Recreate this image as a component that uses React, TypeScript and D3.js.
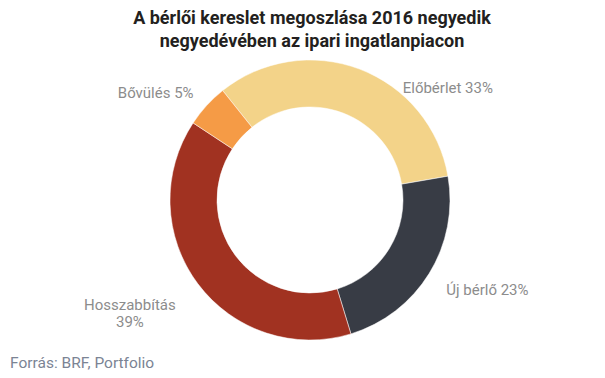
import React from "react";
import * as d3 from "d3";

const categories = ["Előbérlet", "Új bérlő", "Hosszabbítás", "Bővülés"];
const values = [33, 23, 39, 5];
const colors = ["#f3d389", "#383c45", "#a13221", "#f59b46"];
const titleLines = ["A bérlői kereslet megoszlása 2016 negyedik", "negyedévében az ipari ingatlanpiacon"];
const sourceText = "Forrás: BRF, Portfolio";

const W = 605;
const H = 378;
const cx = 310;
const cy = 200;
const outerR = 140;
const innerR = 93;
const startDeg = -38.6;

// label placement relative to outer edge point at mid angle
const labelLayout = [
  { dx: 43, dy: 24, anchor: "start", split: false },
  { dx: 17, dy: 21.5, anchor: "start", split: false },
  { dx: -68, dy: 26, anchor: "middle", split: true },
  { dx: -13, dy: -8, anchor: "end", split: false },
];

export default function App() {
  const data = categories.map((c, i) => ({ name: c, value: values[i], color: colors[i] }));
  const start = (startDeg * Math.PI) / 180;
  const pie = d3
    .pie<any>()
    .value((d: any) => d.value)
    .sort(null)
    .startAngle(start)
    .endAngle(start + 2 * Math.PI);
  const arcs = pie(data);
  const arc = d3.arc<any>().innerRadius(innerR).outerRadius(outerR);

  return (
    <svg width={W} height={H} style={{ position: "absolute", left: 0, top: 0, background: "#fff" }}>
      <g fontFamily="Roboto, sans-serif">
        {titleLines.map((t, i) => (
          <text key={i} x={312} y={24 + i * 23} textAnchor="middle" fontSize={18} fontWeight={700} fill="#231f20">
            {t}
          </text>
        ))}
        <g transform={`translate(${cx},${cy})`}>
          {arcs.map((a, i) => (
            <path key={i} d={arc(a) as string} fill={a.data.color} stroke="#fff" strokeWidth={0.5} />
          ))}
        </g>
        {arcs.map((a, i) => {
          const mid = (a.startAngle + a.endAngle) / 2;
          const px = cx + outerR * Math.sin(mid);
          const py = cy - outerR * Math.cos(mid);
          const L = labelLayout[i];
          const x = px + L.dx;
          const y = py + L.dy;
          const pct = `${a.data.value}%`;
          return L.split ? (
            <text key={i} x={x} y={y} textAnchor={L.anchor as any} fontSize={15} fill="#8c8c8c">
              <tspan x={x}>{a.data.name}</tspan>
              <tspan x={x} dy={17}>{pct}</tspan>
            </text>
          ) : (
            <text key={i} x={x} y={y} textAnchor={L.anchor as any} fontSize={15} fill="#8c8c8c">
              {`${a.data.name} ${pct}`}
            </text>
          );
        })}
        <text x={10} y={368} fontSize={15.5} fill="#7b8494">
          {sourceText}
        </text>
      </g>
    </svg>
  );
}
